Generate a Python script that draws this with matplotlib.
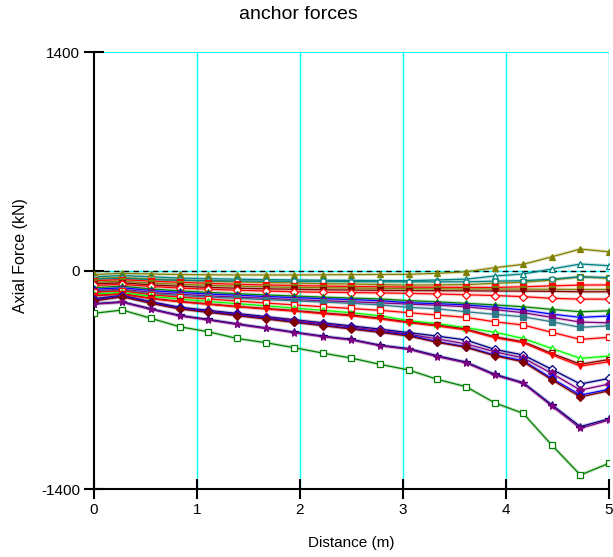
import numpy as np
import matplotlib
matplotlib.use("Agg")
import matplotlib.pyplot as plt

plt.rcParams['font.family'] = ['Liberation Sans', 'DejaVu Sans']
plt.rcParams['axes.unicode_minus'] = False

distance = np.linspace(0, 5, 19)

s_olive_tri = [-25, -18, -22, -25, -27, -28, -28, -28, -27, -26, -25, -24, -18, -8, 18, 40, 88, 138, 120]
s_teal_tri = [-40, -32, -40, -48, -52, -55, -58, -60, -62, -63, -64, -65, -60, -55, -35, -22, 10, 42, 31]
s_olive_sq = [-50, -45, -55, -62, -68, -72, -76, -80, -84, -86, -90, -93, -92, -90, -82, -75, -61, -40, -50]
s_teal_circ = [-55, -50, -58, -62, -65, -67, -68, -69, -70, -71, -72, -72, -72, -72, -68, -65, -55, -40, -45]
s_red_sq = [-65, -58, -68, -75, -82, -88, -92, -96, -99, -102, -104, -106, -107, -108, -108, -104, -98, -93, -92]
s_olive_v = [-75, -68, -80, -88, -95, -100, -104, -108, -110, -112, -114, -116, -117, -118, -118, -119, -120, -121, -121]
s_maroon_v = [-85, -78, -92, -100, -108, -113, -117, -120, -123, -125, -127, -128, -129, -130, -131, -132, -133, -136, -136]
s_red_dia = [-95, -88, -102, -112, -120, -126, -131, -136, -139, -141, -143, -146, -150, -155, -160, -167, -178, -183, -183]
s_green_tri = [-110, -100, -118, -130, -140, -148, -156, -163, -170, -176, -182, -193, -200, -210, -220, -232, -249, -264, -258]
s_blue_tri = [-120, -110, -128, -140, -150, -158, -166, -173, -180, -186, -193, -206, -212, -220, -235, -253, -279, -300, -291]
s_purple_sq = [-130, -120, -140, -152, -162, -170, -178, -186, -193, -200, -207, -215, -222, -232, -250, -270, -300, -330, -335]
s_steel_sq = [-135, -125, -148, -160, -170, -178, -186, -194, -202, -210, -220, -236, -245, -264, -280, -296, -328, -364, -354]
s_red_osq = [-140, -130, -155, -170, -182, -195, -208, -220, -232, -243, -255, -270, -285, -300, -328, -349, -396, -441, -428]
s_lime_tri = [-150, -140, -165, -182, -198, -212, -226, -240, -255, -270, -290, -321, -340, -366, -395, -435, -499, -563, -548]
s_maroon_ov = [-160, -150, -178, -198, -214, -230, -243, -256, -272, -285, -305, -330, -350, -375, -424, -456, -531, -600, -570]
s_red_v = [-160, -150, -180, -200, -216, -232, -246, -260, -276, -290, -310, -334, -355, -380, -430, -462, -540, -612, -584]
s_navy_dia = [-180, -160, -200, -235, -255, -275, -295, -315, -335, -355, -375, -398, -420, -445, -505, -541, -633, -727, -691]
s_purple_dia = [-185, -163, -204, -240, -260, -280, -300, -320, -340, -362, -383, -408, -438, -470, -520, -560, -659, -766, -727]
s_blue_dia = [-190, -165, -206, -242, -264, -285, -306, -328, -349, -371, -392, -413, -456, -488, -541, -578, -691, -798, -761]
s_maroon_dia = [-195, -168, -210, -246, -268, -289, -310, -332, -353, -375, -396, -420, -460, -492, -546, -585, -700, -810, -770]
s_navy_star = [-212, -200, -245, -287, -313, -341, -367, -394, -420, -441, -478, -500, -546, -586, -664, -718, -860, -1000, -950]
s_purple_star = [-215, -204, -249, -291, -317, -345, -371, -398, -424, -445, -482, -505, -552, -591, -670, -723, -868, -1011, -958]
s_green_sq = [-274, -253, -306, -360, -392, -435, -462, -494, -529, -561, -601, -637, -697, -744, -847, -915, -1118, -1310, -1235]

series = [
    ('#808000', '^', True, s_olive_tri),
    ('#008080', '^', False, s_teal_tri),
    ('#808000', 's', False, s_olive_sq),
    ('#008080', 'o', False, s_teal_circ),
    ('#FF0000', 's', True, s_red_sq),
    ('#808000', 'v', True, s_olive_v),
    ('#800000', 'v', True, s_maroon_v),
    ('#FF0000', 'D', False, s_red_dia),
    ('#008000', '^', True, s_green_tri),
    ('#0000FF', '^', True, s_blue_tri),
    ('#800080', 's', True, s_purple_sq),
    ('#2E7A8A', 's', True, s_steel_sq),
    ('#FF0000', 's', False, s_red_osq),
    ('#00FF00', '^', False, s_lime_tri),
    ('#800000', 'v', False, s_maroon_ov),
    ('#FF0000', 'v', True, s_red_v),
    ('#000080', 'D', False, s_navy_dia),
    ('#800080', 'D', True, s_purple_dia),
    ('#0000FF', 'D', True, s_blue_dia),
    ('#800000', 'D', True, s_maroon_dia),
    ('#000080', '*', True, s_navy_star),
    ('#800080', '*', True, s_purple_star),
    ('#008000', 's', False, s_green_sq),
]

x_ticks = [0, 1, 2, 3, 4, 5]
y_ticks = [-1400, 0, 1400]

fig = plt.figure(figsize=(6.13, 5.57), dpi=100)
ax = fig.add_axes([0.153, 0.122, 0.8405, 0.7845])

for xv in x_ticks[1:]:
    ax.axvline(xv, color='#00FFFF', lw=1, zorder=0)
ax.axhline(1400, color='#00FFFF', lw=1.5, zorder=0)
ax.axhline(0, color='#00FFFF', lw=1, zorder=0)
ax.axhline(0, color='black', lw=1, ls=(0, (4, 3)), zorder=1)

for color, marker, filled, vals in series:
    ax.plot(distance, vals, color=color, lw=2.5, alpha=0.2, zorder=2)
    ax.plot(distance, vals, color=color, lw=0.9, marker=marker,
            markersize=3.8 if marker != '*' else 5.5,
            markerfacecolor=color if filled else 'white',
            markeredgecolor=color, markeredgewidth=0.9, zorder=3)

ax.set_xlim(0, 5)
ax.set_ylim(-1400, 1400)
ax.set_xticks(x_ticks)
ax.set_yticks(y_ticks)
ax.tick_params(direction='inout', length=14, width=1.5, labelsize=11, pad=3)
for side in ['top', 'right']:
    ax.spines[side].set_visible(False)
for side in ['left', 'bottom']:
    ax.spines[side].set_linewidth(1.5)

ax.set_xlabel('Distance (m)', fontsize=11, labelpad=14)
ax.set_ylabel('Axial Force (kN)', fontsize=11.5)
ax.yaxis.set_label_coords(-0.128, 0.535)
fig.text(0.486, 0.99, 'anchor forces', fontsize=14, ha='center', va='top')

fig.savefig('out.png', dpi=100)
